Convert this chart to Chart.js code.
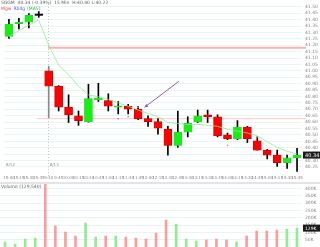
<!DOCTYPE html>
<html><head><meta charset="utf-8">
<script src="https://cdn.jsdelivr.net/npm/chart.js@4/dist/chart.umd.min.js"></script>
<style>
html,body{margin:0;padding:0;background:#fff;width:320px;height:247px;overflow:hidden}
#p{position:absolute;left:0;top:0}
#v{position:absolute;left:0;top:184px}
#sep{position:absolute;left:0;top:182px;width:320px;height:2px;background:#e4e4e4}
</style></head><body>
<canvas id="p" width="320" height="182"></canvas>
<div id="sep"></div>
<canvas id="v" width="320" height="63"></canvas>
<script>
// ---- data ----
const times = ['15:00','15:15','15:30','15:45','9:30','9:45','10:00','10:15','10:30','10:45','11:00','11:15','11:30','11:45','12:00','12:15','12:30','12:45','13:00','13:15','13:30','13:45','14:00','14:15','14:30','14:45','15:00','15:15','15:30','15:45'];
const dayLabels = ['8/12','8/13'];
const dayStartIdx = [0,4];
const opens  = [41.269,41.369,41.381,41.433,41.000,40.881,40.716,40.649,40.604,40.776,40.769,40.716,40.724,40.701,40.627,40.604,40.545,40.418,40.522,40.604,40.657,40.642,40.500,40.470,40.560,40.455,40.381,40.343,40.284,40.321];
const highs  = [41.403,41.410,41.448,41.463,41.037,40.885,40.813,40.687,40.896,40.903,40.821,40.761,40.739,40.724,40.649,40.627,40.567,40.687,40.642,40.694,40.694,40.657,40.515,40.612,40.567,40.485,40.388,40.381,40.343,40.396];
const lows   = [41.254,41.328,41.336,41.418,40.634,40.687,40.597,40.575,40.600,40.761,40.687,40.664,40.664,40.619,40.567,40.507,40.343,40.403,40.485,40.597,40.597,40.485,40.463,40.463,40.440,40.381,40.313,40.254,40.239,40.216];
const closes = [41.366,41.376,41.433,41.433,40.881,40.716,40.657,40.612,40.784,40.784,40.724,40.724,40.701,40.627,40.604,40.552,40.418,40.522,40.590,40.649,40.642,40.493,40.470,40.560,40.470,40.381,40.343,40.284,40.321,40.343];
const ma5    = [41.269,41.313,41.358,41.396,41.201,41.045,40.970,40.881,40.813,40.798,40.776,40.750,40.724,40.694,40.668,40.642,40.597,40.590,40.582,40.582,40.575,40.567,40.545,40.530,40.515,40.493,40.448,40.403,40.373,40.351];
const volumes = [34000,20000,54000,61000,429000,143000,102000,75000,163000,68000,75000,75000,68000,61000,54000,95000,184000,156000,54000,41000,48000,54000,48000,34000,75000,109000,109000,116000,122000,129000];
const markerIdx = [11,12,13,22,25];
const markerVals = [40.627,40.642,40.716,40.418,40.485];
const priceTicks = [40.25,40.30,40.35,40.40,40.45,40.50,40.55,40.60,40.65,40.70,40.75,40.80,40.85,40.90,40.95,41.00,41.05,41.10,41.15,41.20,41.25,41.30,41.35,41.40,41.45,41.50];
const volTicks = [50000,100000,150000,200000,250000,300000,350000,400000];
const levels = [41.18, 40.627];
const levelStartIdx = [3.95, 2.8];
const arrowFrom = [17.1, 40.918];
const arrowTo = [13.65, 40.716];
const sepIdx = 3.95;
const titleText = 'SGGM  40.34 (-0.39%)  15 Min  H:40.40 L:40.22';
const legendItems = ['Mgw','Rbdg','(MA5)'];

// ---- styling ----
const FONT = 'DejaVu Sans';
const up = i => closes[i] > opens[i];
const flat = i => closes[i] === opens[i];
const bodyFill = opens.map((o,i)=> flat(i) ? '#000' : (up(i) ? '#14f014' : '#ff0000'));
const bodyBorder = opens.map((o,i)=> flat(i) ? '#000' : (up(i) ? '#3ac83a' : '#c80000'));
const volFill = volumes.map((v,i)=> closes[i] >= opens[i] ? 'rgba(100,228,100,0.7)' : 'rgba(255,105,105,0.65)');
const gridColor = 'rgba(200,236,230,0.45)';
const markerData = times.map((t,i)=> { const k = markerIdx.indexOf(i); return k >= 0 ? markerVals[k] : null; });

const priceOverlay = {
  id:'priceOverlay',
  beforeDatasetsDraw(chart){
    const {ctx, chartArea:a, scales:{x,y}} = chart;
    ctx.save();
    const sx = Math.round(x.getPixelForValue(sepIdx))+0.5;
    ctx.strokeStyle = '#c4c4c4'; ctx.lineWidth = 1; ctx.setLineDash([1,2]);
    ctx.beginPath(); ctx.moveTo(sx, a.top); ctx.lineTo(sx, a.bottom); ctx.stroke();
    ctx.setLineDash([]);
    const cols = ['rgba(255,150,150,0.75)','rgba(255,185,185,0.8)'];
    const wid = [2,1];
    levels.forEach((lv,k)=>{
      const yy = y.getPixelForValue(lv);
      ctx.strokeStyle = cols[k]; ctx.lineWidth = wid[k];
      ctx.beginPath(); ctx.moveTo(x.getPixelForValue(levelStartIdx[k]), yy); ctx.lineTo(a.right+4, yy); ctx.stroke();
    });
    ctx.restore();
  },
  afterDatasetsDraw(chart){
    const {ctx, chartArea:a, scales:{x,y}} = chart;
    ctx.save();
    const x1 = x.getPixelForValue(arrowFrom[0]), y1 = y.getPixelForValue(arrowFrom[1]);
    const x2 = x.getPixelForValue(arrowTo[0]), y2 = y.getPixelForValue(arrowTo[1]);
    ctx.strokeStyle = '#9a5aa8'; ctx.fillStyle = '#9a5aa8'; ctx.lineWidth = 1;
    ctx.beginPath(); ctx.moveTo(x1,y1); ctx.lineTo(x2,y2); ctx.stroke();
    const ang = Math.atan2(y2-y1, x2-x1);
    ctx.beginPath(); ctx.moveTo(x2,y2);
    ctx.lineTo(x2 - 4*Math.cos(ang-0.5), y2 - 4*Math.sin(ang-0.5));
    ctx.lineTo(x2 - 4*Math.cos(ang+0.5), y2 - 4*Math.sin(ang+0.5));
    ctx.closePath(); ctx.fill();
    ctx.textBaseline = 'top'; ctx.textAlign = 'left';
    ctx.font = '4.5px "'+FONT+'"'; ctx.fillStyle = '#666';
    ctx.fillText(titleText, 1, 1);
    const lc = ['#e05050','#6060e0','#40b040'];
    let lx = 1;
    legendItems.forEach((t,k)=>{ ctx.fillStyle = lc[k]; ctx.fillText(t, lx, 6.5); lx += ctx.measureText(t).width + 2; });
    ctx.font = '4px "'+FONT+'"';
    ctx.fillStyle = '#888'; ctx.textAlign = 'left';
    dayLabels.forEach((d,k)=>{ const px = x.getPixelForValue(dayStartIdx[k]) - (k===0?4:0); ctx.fillText(d, px+1, 163); });
    ctx.textAlign = 'center';
    times.forEach((t,i)=>{ ctx.fillText(t, x.getPixelForValue(i), 175.5); });
    const last = closes[closes.length-1];
    const by = y.getPixelForValue(last);
    ctx.fillStyle = '#1a1a1a'; ctx.fillRect(a.right+1, by-3.5, 320-a.right-1, 7);
    ctx.fillStyle = '#fff'; ctx.textAlign = 'left'; ctx.textBaseline = 'middle';
    ctx.font = '5px "'+FONT+'"';
    ctx.fillText(last.toFixed(2), a.right+3, by+0.5);
    ctx.restore();
  }
};

new Chart(document.getElementById('p'), {
  type:'bar',
  data:{
    labels: times,
    datasets:[
      {type:'line', data: ma5, borderColor:'rgba(140,235,140,0.75)', borderWidth:1, pointRadius:0, tension:0, order:0, clip:false},
      {type:'line', data: markerData, showLine:false, pointRadius:1, pointStyle:'rect', backgroundColor:'#f07080', borderColor:'#f07080', borderWidth:0, order:1},
      {data: opens.map((o,i)=>[o, closes[i]]), backgroundColor: bodyFill, borderColor: bodyBorder, borderWidth:0.6, borderSkipped:false, barThickness:8, minBarLength:1.5, grouped:false, order:2, clip:false},
      {data: lows.map((l,i)=>[l, highs[i]]), backgroundColor: opens.map((o,i)=> i===4 ? '#8a8a8a' : '#000'), barThickness:1, grouped:false, order:3, clip:false}
    ]
  },
  options:{
    responsive:false, animation:false, devicePixelRatio:1,
    layout:{padding:0},
    plugins:{legend:{display:false}, tooltip:{enabled:false}},
    scales:{
      x:{type:'category', offset:true, display:false},
      y:{position:'right', min:40.164, max:41.522,
        afterBuildTicks: ax => { ax.ticks = priceTicks.map(v=>({value:v})); },
        afterFit: ax => { ax.width = 18; ax.paddingTop = 0; ax.paddingBottom = 0; },
        ticks:{autoSkip:false, font:{size:4.5, family:FONT}, color:'#888', padding:3, callback: v => Number(v).toFixed(2)},
        grid:{color:gridColor, lineWidth:1, drawTicks:false},
        border:{display:false}
      }
    }
  },
  plugins:[priceOverlay]
});

const volOverlay = {
  id:'volOverlay',
  afterDatasetsDraw(chart){
    const {ctx, chartArea:a, scales:{x,y}} = chart;
    ctx.save();
    ctx.font = '4.5px "'+FONT+'"'; ctx.fillStyle = '#666'; ctx.textBaseline='top';
    ctx.fillText('Volume (129,540)', 1, 1);
    const lastV = volumes[volumes.length-1];
    const by = y.getPixelForValue(lastV);
    ctx.fillStyle = '#1a1a1a'; ctx.fillRect(a.right+1, by-3.5, 320-a.right-1, 7);
    ctx.fillStyle = '#fff'; ctx.textBaseline='middle';
    ctx.fillText(Math.round(lastV/1000)+'K', a.right+3, by+0.5);
    ctx.restore();
  }
};

new Chart(document.getElementById('v'), {
  type:'bar',
  data:{labels: times, datasets:[{data: volumes, backgroundColor: volFill, barThickness:2}]},
  options:{
    responsive:false, animation:false, devicePixelRatio:1,
    layout:{padding:0},
    plugins:{legend:{display:false}, tooltip:{enabled:false}},
    scales:{
      x:{type:'category', offset:true, display:false},
      y:{position:'right', min:0, max:430000,
        afterBuildTicks: ax => { ax.ticks = volTicks.map(v=>({value:v})); },
        afterFit: ax => { ax.width = 18; ax.paddingTop = 0; ax.paddingBottom = 0; },
        ticks:{autoSkip:false, font:{size:4.5, family:FONT}, color:'#888', padding:3, callback: v => (v/1000)+'K'},
        grid:{color:gridColor, lineWidth:1, drawTicks:false},
        border:{display:false}
      }
    }
  },
  plugins:[volOverlay]
});
</script>
</body></html>
